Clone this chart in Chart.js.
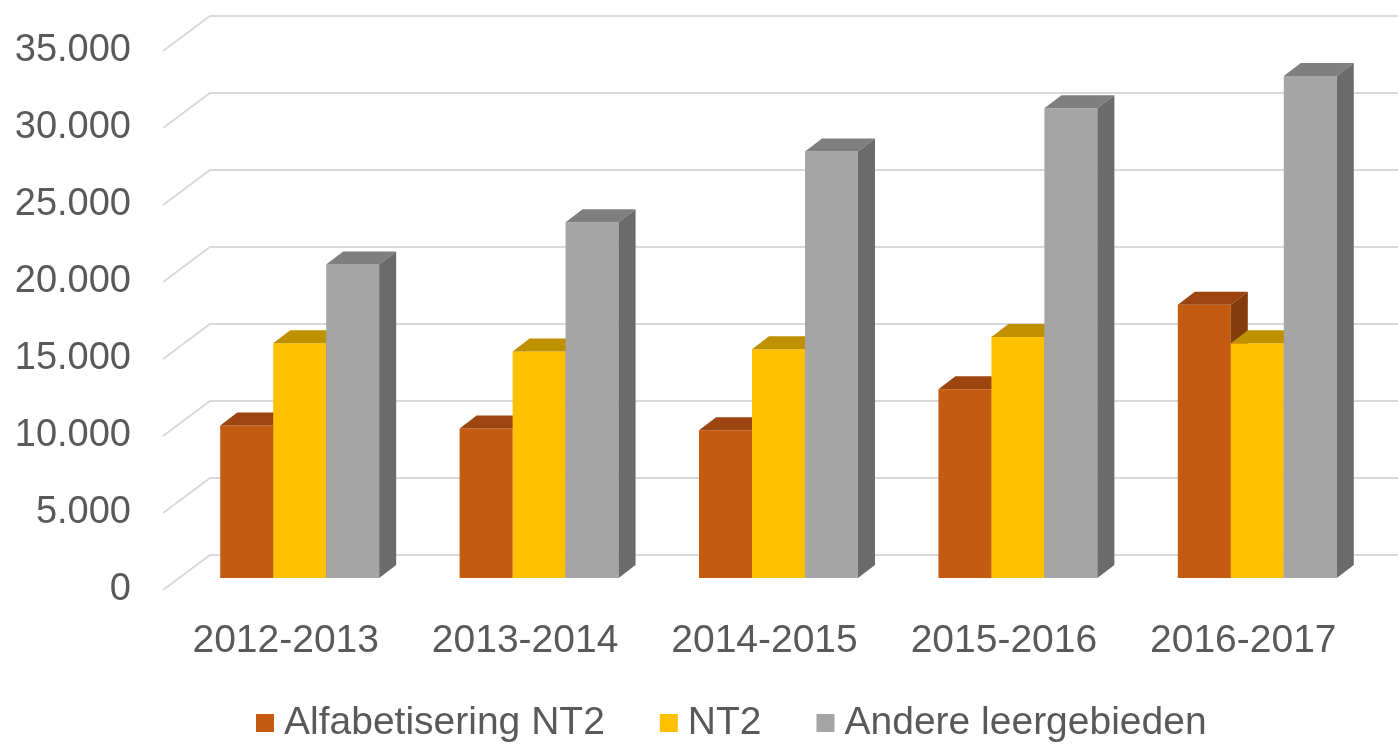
<!DOCTYPE html>
<html>
<head>
<meta charset="utf-8">
<script src="https://cdn.jsdelivr.net/npm/chart.js@4.4.0/dist/chart.umd.min.js"></script>
<style>
  body { margin: 0; background: #fff; }
  #wrap { width: 1398px; height: 747px; position: relative; }
</style>
</head>
<body>
<div id="wrap"><canvas id="chart"></canvas></div>
<script>
// data ==============================
var years = ["2012-2013", "2013-2014", "2014-2015", "2015-2016", "2016-2017"];
var alfaNT2 = [9900, 9700, 9600, 12250, 17750];
var nt2 = [15250, 14700, 14850, 15650, 15250];
var andere = [20350, 23100, 27700, 30500, 32600];
var seriesNames = ["Alfabetisering NT2", "NT2", "Andere leergebieden"];
var yTicks = [0, 5000, 10000, 15000, 20000, 25000, 30000, 35000];

// colours: front, top, side
var fronts = ["#C55A11", "#FFC000", "#A5A5A5"];
var tops = ["#9C4511", "#BF9000", "#7F7F7F"];
var sides = ["#843C0C", "#A67C00", "#6B6B6B"];

var textColor = "#595959";
var font = "Liberation Sans, Arial, sans-serif";

// depth of the 3d bars and of the back wall
var bx = 17, by = 13;
var wallFront = { dx: -17, dy: 12 };
var wallBack = { dx: 30, dy: -23 };

function fmt(v) {
  return v.toLocaleString("nl-NL");
}

// draw one bar with its top and right side
function drawBar(ctx, bar, i) {
  bar.draw(ctx);
  const p = bar.getProps(["x", "y", "base", "width"], true);
  const l = p.x - p.width / 2, r = p.x + p.width / 2;
  // top face
  ctx.fillStyle = tops[i];
  ctx.beginPath();
  ctx.moveTo(l, p.y);
  ctx.lineTo(r, p.y);
  ctx.lineTo(r + bx, p.y - by);
  ctx.lineTo(l + bx, p.y - by);
  ctx.closePath();
  ctx.fill();
  // side face
  ctx.fillStyle = sides[i];
  ctx.beginPath();
  ctx.moveTo(r, p.y);
  ctx.lineTo(r + bx, p.y - by);
  ctx.lineTo(r + bx, p.base - by);
  ctx.lineTo(r, p.base);
  ctx.closePath();
  ctx.fill();
}

// plugin block ======================
const fake3d = {
  id: "fake3d",
  beforeDatasetsDraw(chart) {
    const { ctx, chartArea: { left }, scales: { y } } = chart;
    ctx.save();
    ctx.strokeStyle = "#D9D9D9";
    ctx.lineWidth = 2;
    y.ticks.forEach(function (t) {
      const py = y.getPixelForValue(t.value);
      ctx.beginPath();
      ctx.moveTo(left + wallFront.dx, py + wallFront.dy);
      ctx.lineTo(left + wallBack.dx, py + wallBack.dy);
      ctx.lineTo(chart.width, py + wallBack.dy);
      ctx.stroke();
    });
    // tick labels
    ctx.fillStyle = textColor;
    ctx.font = "38px " + font;
    ctx.textAlign = "right";
    ctx.textBaseline = "middle";
    y.ticks.forEach(function (t) {
      const py = y.getPixelForValue(t.value);
      ctx.fillText(fmt(t.value), 131, py + 12);
    });
    ctx.restore();

    // bars left to right: each front hides the side of its left neighbour
    ctx.save();
    chart.data.datasets.forEach(function (ds, i) {
      chart.getDatasetMeta(i).data.forEach(function (bar) {
        drawBar(ctx, bar, i);
      });
    });
    ctx.restore();
    return false; // skip the default dataset pass
  },
  afterDraw(chart) {
    // legend
    const ctx = chart.ctx;
    ctx.save();
    ctx.font = "39px " + font;
    ctx.textAlign = "left";
    ctx.textBaseline = "middle";
    let x = 256;
    const cy = 723;
    chart.data.datasets.forEach(function (ds, i) {
      ctx.fillStyle = fronts[i];
      ctx.fillRect(x, cy - 9, 18, 18);
      x += 18 + 10;
      ctx.fillStyle = textColor;
      ctx.fillText(ds.label, x, cy);
      x += ctx.measureText(ds.label).width + 55;
    });
    ctx.restore();
  },
};

// config ============================
const cfg = {
  type: "bar",
  data: {
    labels: years,
    datasets: [
      { label: seriesNames[0], data: alfaNT2, backgroundColor: fronts[0] },
      { label: seriesNames[1], data: nt2, backgroundColor: fronts[1] },
      { label: seriesNames[2], data: andere, backgroundColor: fronts[2] },
    ],
  },
  options: {
    responsive: true,
    maintainAspectRatio: false,
    animation: false,
    layout: { padding: { top: 39, right: 21, left: 0, bottom: 0 } },
    datasets: {
      bar: { categoryPercentage: 0.664, barPercentage: 1.0 },
    },
    scales: {
      x: {
        grid: { display: false, drawTicks: false },
        border: { display: false },
        ticks: {
          color: textColor,
          font: { family: font, size: 39 },
          padding: 40,
          labelOffset: -14,
          maxRotation: 0,
        },
        afterFit(scale) {
          scale.height = 169;
        },
      },
      y: {
        min: 0,
        max: 35000,
        afterBuildTicks(scale) {
          scale.ticks = yTicks.map(function (v) { return { value: v }; });
        },
        grid: { display: false, drawTicks: false },
        border: { display: false },
        ticks: { display: false },
        afterFit(scale) {
          scale.width = 180;
        },
      },
    },
    plugins: {
      legend: { display: false },
      tooltip: { enabled: false },
    },
  },
  plugins: [fake3d],
};

const myChart = new Chart(document.getElementById("chart"), cfg);
</script>
</body>
</html>
